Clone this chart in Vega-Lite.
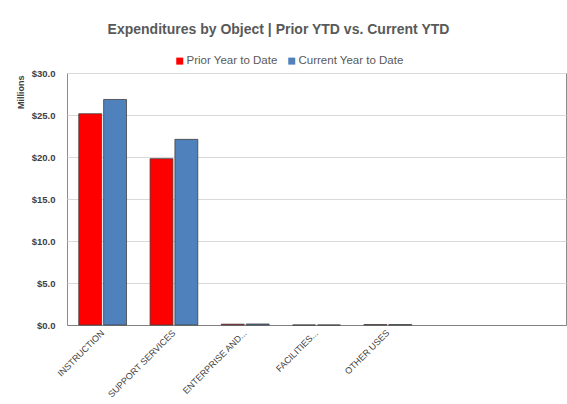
{
  "$schema": "https://vega.github.io/schema/vega-lite/v6.json",
  "width": 499,
  "height": 252,
  "autosize": "none",
  "padding": {"left": 67, "top": 73, "right": 1, "bottom": 79},
  "background": "white",
  "title": {
    "text": "Expenditures by Object | Prior YTD vs. Current YTD",
    "font": "Liberation Sans",
    "fontSize": 14,
    "fontWeight": "bold",
    "color": "#595959",
    "anchor": "middle",
    "dx": -38,
    "offset": 18
  },
  "config": {
    "font": "Liberation Sans",
    "view": {"stroke": "#8c8c8c", "strokeWidth": 1}
  },
  "data": {
    "values": [
      {"Category": "INSTRUCTION", "Series": "Prior Year to Date", "Value": 25.15},
      {"Category": "INSTRUCTION", "Series": "Current Year to Date", "Value": 26.85},
      {"Category": "SUPPORT SERVICES", "Series": "Prior Year to Date", "Value": 19.8},
      {"Category": "SUPPORT SERVICES", "Series": "Current Year to Date", "Value": 22.1},
      {"Category": "ENTERPRISE AND...", "Series": "Prior Year to Date", "Value": 0.1},
      {"Category": "ENTERPRISE AND...", "Series": "Current Year to Date", "Value": 0.12},
      {"Category": "FACILITIES...", "Series": "Prior Year to Date", "Value": 0.0},
      {"Category": "FACILITIES...", "Series": "Current Year to Date", "Value": 0.0},
      {"Category": "OTHER USES", "Series": "Prior Year to Date", "Value": 0.05},
      {"Category": "OTHER USES", "Series": "Current Year to Date", "Value": 0.05}
    ]
  },
  "mark": {"type": "bar", "stroke": "#404040", "strokeWidth": 0.8},
  "encoding": {
    "x": {
      "field": "Category",
      "type": "nominal",
      "sort": null,
      "scale": {
        "domain": ["INSTRUCTION", "SUPPORT SERVICES", "ENTERPRISE AND...", "FACILITIES...", "OTHER USES", " ", "  "],
        "paddingInner": 0.33,
        "paddingOuter": 0.165
      },
      "axis": {
        "title": null,
        "labelAngle": -45,
        "labelAlign": "right",
        "labelBaseline": "middle",
        "labelFontSize": 9,
        "labelColor": "#404040",
        "labelPadding": 6,
        "ticks": false,
        "domainColor": "#808080",
        "labelOverlap": false
      }
    },
    "xOffset": {
      "field": "Series",
      "type": "nominal",
      "sort": ["Prior Year to Date", "Current Year to Date"],
      "scale": {"paddingInner": 0.08}
    },
    "y": {
      "field": "Value",
      "type": "quantitative",
      "scale": {"domain": [0, 30], "nice": false},
      "axis": {
        "values": [0, 5, 10, 15, 20, 25, 30],
        "format": "$.1f",
        "title": "Millions",
        "titleFontSize": 9,
        "titleFontWeight": "bold",
        "titleColor": "#404040",
        "titleAngle": -90,
        "titleAlign": "right",
        "titleBaseline": "middle",
        "titleX": -47,
        "titleY": 2,
        "labelFontSize": 9.5,
        "labelFontWeight": "bold",
        "labelColor": "#404040",
        "labelPadding": 12,
        "ticks": false,
        "domain": false,
        "gridColor": "#d9d9d9",
        "gridWidth": 1
      }
    },
    "color": {
      "field": "Series",
      "type": "nominal",
      "scale": {
        "domain": ["Prior Year to Date", "Current Year to Date"],
        "range": ["#ff0000", "#4f81bd"]
      },
      "legend": {
        "title": null,
        "orient": "none",
        "direction": "horizontal",
        "legendX": 107,
        "legendY": -18,
        "symbolType": "square",
        "symbolSize": 49,
        "symbolStrokeWidth": 0,
        "labelFont": "Liberation Sans",
        "labelFontSize": 11.5,
        "labelColor": "#595959",
        "labelOffset": 1,
        "columnPadding": 8
      }
    }
  }
}
